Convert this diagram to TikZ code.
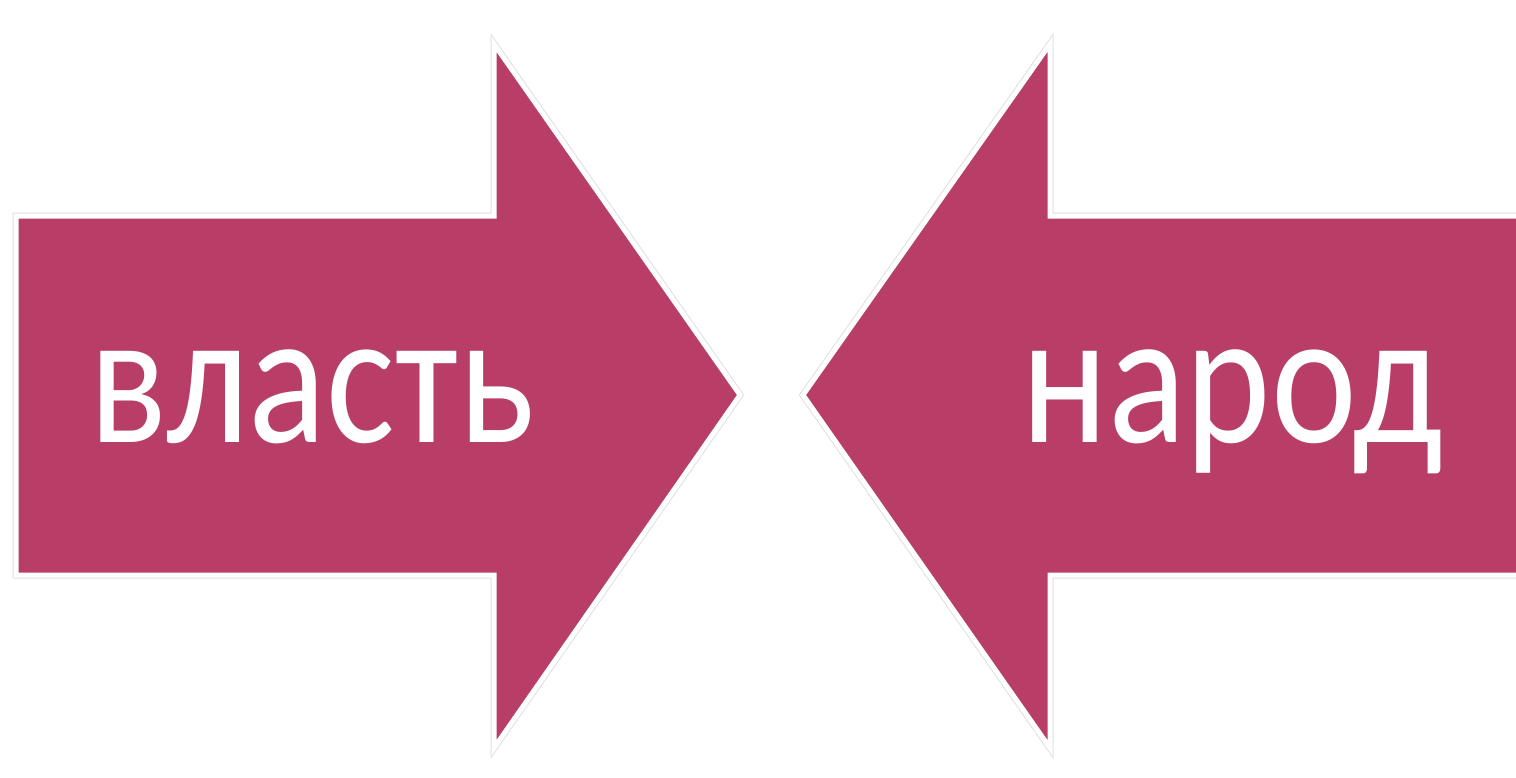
\documentclass[tikz,border=0pt]{standalone}
\usepackage{fontspec}
\setmainfont{Carlito}[FakeStretch=0.85]
\definecolor{arrowpink}{RGB}{184,62,103}
\begin{document}
\begin{tikzpicture}[x=1pt,y=-1pt,
    halo/.style={draw=black!12,line width=7pt,line join=miter},
    pfeil/.style={fill=arrowpink,draw=white,line width=5pt,line join=miter},
    wort/.style={text=white,anchor=base,inner sep=0pt,font=\fontsize{191}{191}\selectfont}]
    \useasboundingbox (0,0) rectangle (1516,777); % Rahmen
    \draw[halo] (16,216) -- (494,216) -- (494,44) -- (740,395) -- (494,748) -- (494,575) -- (16,575) -- cycle;
    \draw[pfeil] (16,216) -- (494,216) -- (494,44) -- (740,395) -- (494,748) -- (494,575) -- (16,575) -- cycle; % linker Pfeil
    \draw[halo] (1540,216) -- (1050,216) -- (1050,44) -- (803,395) -- (1050,748) -- (1050,575) -- (1540,575) -- cycle;
    \draw[pfeil] (1540,216) -- (1050,216) -- (1050,44) -- (803,395) -- (1050,748) -- (1050,575) -- (1540,575) -- cycle; % rechter Pfeil
    \node[wort] (macht) at (312,442) {власть};
    \node[wort] (volk) at (1232,442) {народ};
\end{tikzpicture}
\end{document}
